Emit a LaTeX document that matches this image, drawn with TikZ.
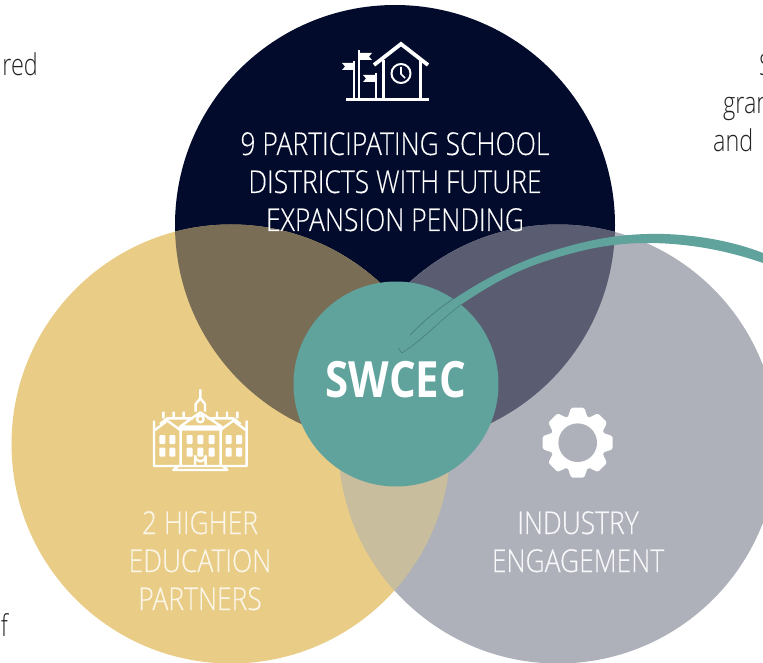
\documentclass[tikz,border=0pt]{standalone}
\usepackage{fontspec}
\setmainfont[FakeStretch=0.78]{Open Sans Light}
\newfontfamily\capsface[FakeStretch=0.84,FakeBold=0.25]{Open Sans Light}
\newfontfamily\boldface[FakeStretch=0.84]{Open Sans}[BoldFont={* Bold}]
\definecolor{navy}{HTML}{020B2B}
\definecolor{sand}{HTML}{E9CD87}
\definecolor{slate}{HTML}{AEB0BA}
\definecolor{tealc}{HTML}{5FA39C}
\definecolor{navysand}{HTML}{7A6D56}
\definecolor{navyslate}{HTML}{5A5D72}
\definecolor{sandslate}{HTML}{C8BD9C}
\definecolor{sandtext}{HTML}{FBF6E8}
\definecolor{slatetext}{HTML}{F8F8FA}
\definecolor{sidetext}{HTML}{222222}
\tikzset{
  lbl/.style={font=\capsface\fontsize{31.5}{31.5}\selectfont,inner sep=0pt,anchor=base,text=white},
  side/.style={font=\fontsize{30}{30}\selectfont,inner sep=0pt,text=sidetext},
  iconline/.style={draw=white,line width=2.6pt,line join=round},
  iconfill/.style={fill=white},
}
\begin{document}
\begin{tikzpicture}[x=1pt,y=-1pt]
\useasboundingbox (0,0) rectangle (763,663);
\clip (0,0) rectangle (763,663);
% circles
\coordinate (ct) at (395,225);
\coordinate (cl) at (231,444);
\coordinate (cr) at (558,444);
\fill[navy] (ct) circle[radius=220pt];
\fill[sand] (cl) circle[radius=219.5pt];
\fill[slate] (cr) circle[radius=219.5pt];
\begin{scope}
  \clip (ct) circle[radius=220pt];
  \fill[navysand] (cl) circle[radius=219.5pt];
  \fill[navyslate] (cr) circle[radius=219.5pt];
\end{scope}
\begin{scope}
  \clip (cl) circle[radius=219.5pt];
  \fill[sandslate] (cr) circle[radius=219.5pt];
\end{scope}
\node[circle,fill=tealc,minimum size=205pt,inner sep=0pt] (hub) at (396,384) {};
% swoosh
\fill[tealc] (763,253) .. controls (725,238) and (680,233) .. (647,234)
  .. controls (610,235) and (580,242) .. (546,253)
  .. controls (510,265) and (480,282) .. (457,297)
  .. controls (440,309) and (425,320) .. (410,335)
  -- (398,348) -- (402,353)
  .. controls (425,338) and (440,320) .. (462,304)
  .. controls (490,285) and (515,271) .. (546,261)
  .. controls (580,250) and (610,243) .. (647,243)
  .. controls (680,243) and (720,248) .. (763,263) -- cycle;
\draw[tealc!78!black,line width=.6pt,line cap=round]
  (462,304) .. controls (440,320) and (425,338) .. (402,353) -- (398,348);
\draw[tealc!78!black,line width=.7pt,line cap=round]
  (453,299) .. controls (438,309) and (425,320) .. (410,335);
% labels
\node[lbl] (t1) at (395,155) {9 PARTICIPATING SCHOOL};
\node[lbl] (t2) at (395,193) {DISTRICTS WITH FUTURE};
\node[lbl] (t3) at (395,231) {EXPANSION PENDING};
\node[lbl,text=sandtext] (l1) at (200,534) {2 HIGHER};
\node[lbl,text=sandtext] (l2) at (200,572) {EDUCATION};
\node[lbl,text=sandtext] (l3) at (200,610) {PARTNERS};
\node[lbl,text=slatetext] (r1) at (578,534) {INDUSTRY};
\node[lbl,text=slatetext] (r2) at (578,572) {ENGAGEMENT};
\node[inner sep=0pt,anchor=base,text=white,font=\boldface\bfseries\fontsize{50}{50}\selectfont] (hubtext) at (396,397) {SWCEC};
% clipped side text
\node[side,anchor=base east] (s1) at (38,76) {red};
\node[side,anchor=base east] (s2) at (8,636) {f};
\node[side,anchor=base west] (s3) at (723,114) {gran};
\node[side,anchor=base west] (s4) at (713,152) {and};
\node[side,anchor=base west] (s5) at (759,76) {S};
% school icon
\begin{scope}
  \draw[iconline] (346,99.5) -- (429,99.5);
  \draw[iconline,line width=3.8pt,miter limit=10,line join=miter] (374,65) -- (401,44) -- (428,65);
  \draw[iconline,line width=3pt] (383,60) -- (383,99) (420,60) -- (420,99);
  \draw[iconline,line width=2pt] (401,73.5) circle[radius=9.5pt];
  \draw[iconline,line width=1.6pt] (401,67) -- (401,74) -- (405,78);
  \draw[iconline,line width=2.4pt] (354,61) -- (354,99) (359,50) -- (359,99) (376,73) -- (376,99);
  \fill[iconfill] (354,63) -- (342,63) -- (345,66.5) -- (342,70) -- (354,70) -- cycle;
  \fill[iconfill] (359,53) -- (372,53) -- (369,56.5) -- (372,60) -- (359,60) -- cycle;
  \fill[iconfill] (376,75) -- (363,75) -- (366,78.5) -- (363,82) -- (376,82) -- cycle;
\end{scope}
% college icon
\begin{scope}[shift={(130,380)},x=.33333pt,y=-.33333pt]
  \draw[iconline,line width=2.4pt]
    (211,28) -- (211,55) (197,95) -- (197,72) -- (211,55) -- (225,72) -- (225,95)
    (150,140) -- (211,97) -- (275,140) -- cycle
    (211,117) circle[radius=10]
    (152,148) -- (152,258) (272,148) -- (272,258)
    (145,148) -- (278,148)
    (130,270) -- (292,270) -- (278,258) -- (145,258) -- cycle
    (72,122) -- (72,258) -- (145,258) (350,122) -- (350,258) -- (278,258)
    (75,150) -- (112,122) -- (148,148) (347,150) -- (310,122) -- (274,148)
    (90,132) -- (112,115) -- (132,115) -- (190,115)
    (332,132) -- (310,115) -- (290,115) -- (232,115)
    (100,95) -- (100,115) (131,95) -- (131,115) (161,95) -- (161,115)
    (322,95) -- (322,115) (291,95) -- (291,115) (261,95) -- (261,115);
  \foreach \wx in {88,118,170,202,236,287,318}{
    \fill[iconfill,rounded corners=1pt] (\wx,165) rectangle ++(18,27);
    \fill[iconfill,rounded corners=1pt] (\wx,203) rectangle ++(18,27);
  }
  \fill[sand] (200,232) rectangle (222,256);
  \draw[iconline,line width=2.4pt] (195,256) -- (195,228) arc[start angle=180,end angle=0,radius=16] -- (227,256);
\end{scope}
% gear icon
\begin{scope}[shift={(577.7,442.7)}]
  \fill[iconfill] (0,0) circle[radius=28pt];
  \foreach \a in {0,45,...,315}{
    \fill[iconfill,rotate=\a,rounded corners=1.5pt] (-10,-25) -- (-6.5,-35) -- (6.5,-35) -- (10,-25) -- cycle;
  }
  \fill[slate] (0,0) circle[radius=19.3pt];
\end{scope}
\end{tikzpicture}
\end{document}
